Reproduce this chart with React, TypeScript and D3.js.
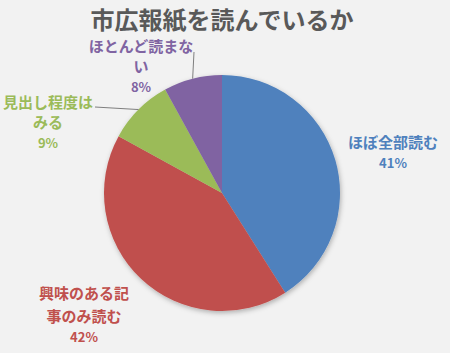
import React from "react";
import * as d3 from "d3";

const title = "市広報紙を読んでいるか";
const categories = ["ほぼ全部読む", "興味のある記事のみ読む", "見出し程度はみる", "ほとんど読まない"];
const labelLines = [["ほぼ全部読む"], ["興味のある記", "事のみ読む"], ["見出し程度は", "みる"], ["ほとんど読まな", "い"]];
const values = [41, 42, 9, 8];
const colors = ["#4F81BD", "#C0504D", "#9BBB59", "#8064A2"];

const width = 450;
const height = 353;
const cx = 222;
const cy = 193;
const radius = 118;
const font = "'Noto Sans CJK JP', 'Noto Sans', sans-serif";

// where each label block sits (first line centre) and its leader line, if any
const labelLayout = [
  { x: 393, y: 143, lh: 21, leader: null },
  { x: 84, y: 294, lh: 23, leader: null },
  { x: 48, y: 103, lh: 20, leader: { from: [95, 107] } },
  { x: 141, y: 47, lh: 20, leader: { from: [194, 52] } }
];

export default function App() {
  const pie = d3.pie<number>().sort(null).value(d => d);
  const arcs = pie(values);
  const arc = d3.arc<d3.PieArcDatum<number>>().innerRadius(0).outerRadius(radius);
  const total = d3.sum(values);

  return (
    <svg width={width} height={height} style={{ position: "absolute", left: 0, top: 0 }}>
      <defs>
        <filter id="shadow" x="-20%" y="-20%" width="140%" height="140%">
          <feDropShadow dx="1" dy="2" stdDeviation="2.5" floodColor="#000" floodOpacity="0.28" />
        </filter>
      </defs>
      <rect width={width} height={height} fill="#F2F2F2" />
      <text x={222} y={29} textAnchor="middle" fontFamily={font} fontSize={24} fontWeight="bold" fill="#595959">
        {title}
      </text>
      <g transform={`translate(${cx},${cy})`} filter="url(#shadow)">
        {arcs.map((a, i) => (
          <path key={categories[i]} d={arc(a) || ""} fill={colors[i]} />
        ))}
      </g>
      {arcs.map((a, i) => {
        const lay = labelLayout[i];
        if (!lay.leader) return null;
        const mid = (a.startAngle + a.endAngle) / 2;
        const ex = cx + Math.sin(mid) * radius;
        const ey = cy - Math.cos(mid) * radius;
        return (
          <line key={"l" + i} x1={lay.leader.from[0]} y1={lay.leader.from[1]} x2={ex} y2={ey} stroke="#7F7F7F" strokeWidth={1} />
        );
      })}
      {arcs.map((a, i) => {
        const lay = labelLayout[i];
        const lines = [...labelLines[i], `${Math.round((values[i] / total) * 100)}%`];
        return (
          <text key={"t" + i} textAnchor="middle" fontFamily={font} fontWeight="bold" fill={colors[i]}>
            {lines.map((s, j) => (
              <tspan
                key={j}
                x={lay.x}
                y={lay.y + (j < lines.length - 1 ? j * lay.lh : (j - 1) * lay.lh + 20)}
                dy="0.35em"
                fontSize={j === lines.length - 1 ? 13 : 15}
              >
                {s}
              </tspan>
            ))}
          </text>
        );
      })}
    </svg>
  );
}
